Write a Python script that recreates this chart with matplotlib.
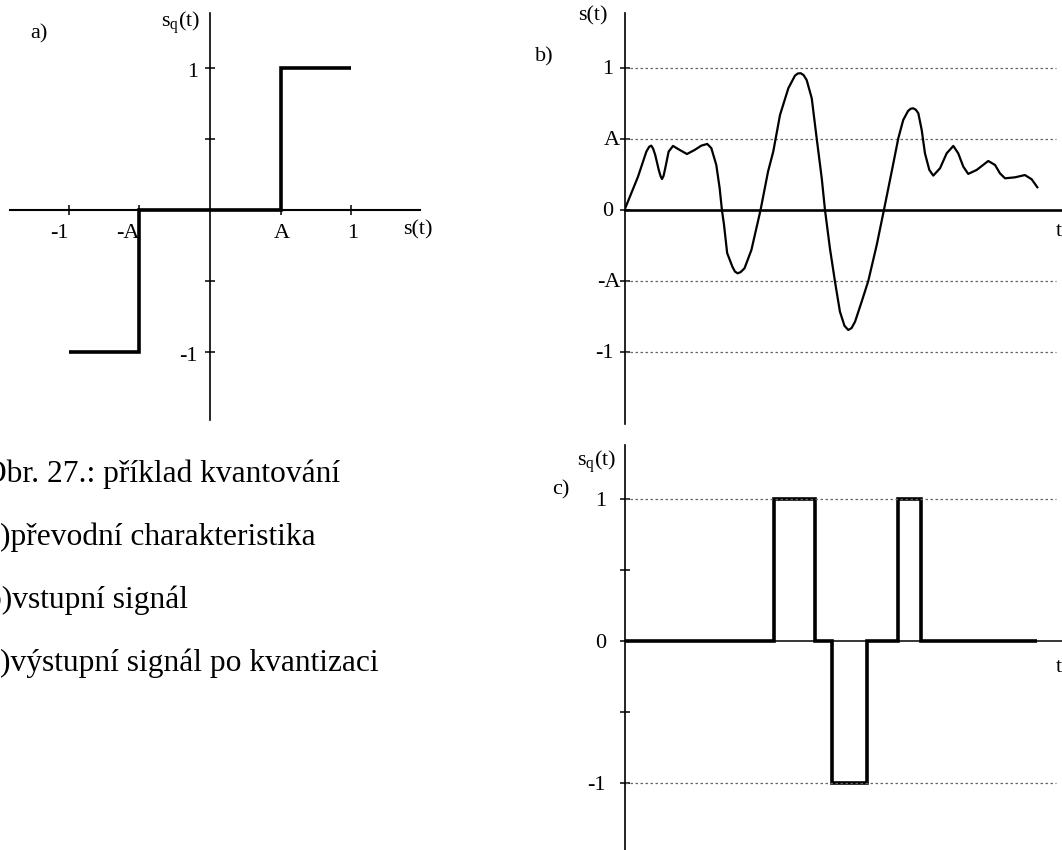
import matplotlib
matplotlib.use("Agg")
import matplotlib.pyplot as plt

plt.rcParams["font.family"] = ["Liberation Serif", "DejaVu Serif"]
plt.rcParams["mathtext.fontset"] = "custom"
plt.rcParams["mathtext.rm"] = "Liberation Serif"
plt.rcParams["mathtext.it"] = "Liberation Serif:italic"

W, H = 1062, 850
A = 0.5

# a) transfer characteristic of the quantizer
char_edges = [-1, -A, A, 1]
char_levels = [-1, 0, 1]
a_xticks = [-1, -A, A, 1]
a_xlabels = ["-1", "-A", "A", "1"]
a_yticks = [-1, -0.5, 0.5, 1]
a_ylabels = ["-1", "", "", "1"]

# b) input signal (read from the picture)
sig_t = [0, 0.096, 0.155, 0.175, 0.190, 0.203, 0.218, 0.243, 0.256, 0.266,
         0.277, 0.289, 0.313, 0.344, 0.391, 0.443, 0.498, 0.545, 0.587, 0.616,
         0.651, 0.675, 0.691, 0.706, 0.728, 0.765, 0.783, 0.802, 0.823, 0.851,
         0.900, 0.965, 1.018, 1.055, 1.103, 1.162, 1.209, 1.229, 1.250, 1.270,
         1.292, 1.328, 1.363, 1.399, 1.422, 1.457, 1.493, 1.528, 1.560, 1.587,
         1.610, 1.635, 1.682, 1.729, 1.789, 1.840, 1.895, 1.942, 1.977, 2.011,
         2.030, 2.048, 2.066, 2.084, 2.108, 2.131, 2.162, 2.190, 2.238, 2.285,
         2.332, 2.367, 2.403, 2.438, 2.498, 2.580, 2.628, 2.663, 2.699, 2.770,
         2.840, 2.888, 2.928]
sig_s = [0, 0.235, 0.411, 0.445, 0.453, 0.432, 0.387, 0.282, 0.238, 0.218,
         0.240, 0.294, 0.411, 0.451, 0.423, 0.394, 0.423, 0.453, 0.465, 0.435,
         0.317, 0.153, 0, -0.106, -0.303, -0.399, -0.433, -0.446, -0.438, -0.411,
         -0.282, 0, 0.270, 0.411, 0.669, 0.857, 0.946, 0.961, 0.963, 0.950,
         0.915, 0.787, 0.505, 0.223, 0, -0.270, -0.505, -0.716, -0.815, -0.845,
         -0.832, -0.787, -0.646, -0.500, -0.246, 0, 0.270, 0.505, 0.634, 0.697,
         0.713, 0.716, 0.706, 0.681, 0.563, 0.399, 0.282, 0.242, 0.294, 0.399,
         0.451, 0.399, 0.305, 0.254, 0.282, 0.345, 0.317, 0.258, 0.223, 0.230,
         0.246, 0.216, 0.160]
b_yticks = [1, A, 0, -A, -1]
b_ylabels = ["1", "A", "0", "-A", "-1"]

# c) quantized output
q_edges = [0, 1.060, 1.354, 1.474, 1.722, 1.943, 2.105, 2.924]
q_levels = [0, 1, 0, -1, 0, 1, 0]
c_yticks = [1, 0.5, 0, -0.5, -1]
c_ylabels = ["1", "", "0", "", "-1"]

caption = ["Obr. 27.: příklad kvantování",
           "a)převodní charakteristika",
           "b)vstupní signál",
           "c)výstupní signál po kvantizaci"]

SQ = r"$\mathrm{s_q(t)}$"
FS = 16


def make_axes(fig, left, top, right, bottom, xlim, ylim):
    ax = fig.add_axes([left / W, 1 - bottom / H, (right - left) / W, (bottom - top) / H])
    ax.set_xlim(*xlim)
    ax.set_ylim(*ylim)
    ax.patch.set_visible(False)
    for side in ("top", "right"):
        ax.spines[side].set_visible(False)
    ax.spines["left"].set_position(("data", 0))
    ax.spines["bottom"].set_position(("data", 0))
    ax.tick_params(direction="inout", length=7.5, width=1.1, labelleft=False,
                   labelbottom=False)
    return ax


fig = plt.figure(figsize=(W / 100, H / 100), dpi=100)

# ---- a)
ax = make_axes(fig, 10, 13, 420, 420, (-1.418, 1.489), (-1.479, 1.387))
ax.spines["left"].set_linewidth(1.2)
ax.spines["bottom"].set_linewidth(1.5)
ax.set_xticks(a_xticks)
ax.set_yticks(a_yticks)
ax.stairs(char_levels, char_edges, baseline=None, color="black", lw=2.6)
for x, lab in zip(a_xticks, a_xlabels):
    if lab.startswith("-"):
        ax.text(x, -0.165, lab, ha="right", va="center", fontsize=FS)
    else:
        ax.text(x + 0.01, -0.165, lab, ha="center", va="center", fontsize=FS)
for y, lab in zip(a_yticks, a_ylabels):
    if lab:
        ax.text(-0.085, y - 0.03, lab, ha="right", va="center", fontsize=FS)
ax.text(1.475, -0.14, "s(t)", ha="center", va="center", fontsize=FS)
ax.text(-0.205, 1.32, SQ, ha="center", va="center", fontsize=FS)
ax.text(-1.21, 1.24, "a)", ha="center", va="center", fontsize=16)

# ---- b)
ax = make_axes(fig, 624.5, 13, 1062, 424, (0, 3.103), (-1.507, 1.387))
ax.spines["left"].set_linewidth(1.2)
ax.spines["bottom"].set_linewidth(1.9)
ax.set_xticks([])
ax.set_yticks(b_yticks)
ax.hlines([1, A, -A, -1], 0, 3.06, colors="#666666", linestyles=(0, (2, 2)), lw=0.9)
ax.plot(sig_t, sig_s, color="black", lw=1.6, solid_joinstyle="round")
for y, lab in zip(b_yticks, b_ylabels):
    xr = -0.03 if "A" in lab else -0.08
    ax.text(xr, y - 0.01, lab, ha="right", va="center", fontsize=FS)
ax.text(-0.223, 1.366, "s(t)", ha="center", va="center", fontsize=FS)
ax.text(-0.571, 1.077, "b)", ha="center", va="center", fontsize=16)
ax.text(3.06, -0.15, "t", ha="left", va="center", fontsize=FS)

# ---- c)
ax = make_axes(fig, 624.5, 445, 1062, 850, (0, 3.103), (-1.472, 1.380))
ax.spines["left"].set_linewidth(1.2)
ax.spines["bottom"].set_linewidth(1.1)
ax.set_xticks([])
ax.set_yticks(c_yticks)
ax.hlines([1, -1], 0, 3.06, colors="#666666", linestyles=(0, (2, 2)), lw=0.9)
ax.stairs(q_levels, q_edges, baseline=None, color="black", lw=2.6)
for y, lab in zip(c_yticks, c_ylabels):
    if lab:
        ax.text(-0.131, y - 0.015, lab, ha="right", va="center", fontsize=FS)
ax.text(-0.195, 1.261, SQ, ha="center", va="center", fontsize=FS)
ax.text(-0.450, 1.063, "c)", ha="center", va="center", fontsize=16)
ax.text(3.06, -0.19, "t", ha="left", va="center", fontsize=FS)

# caption on the left (partly cut by the page edge, as in the source)
for i, line in enumerate(caption):
    x0 = -16 if i == 0 else -14
    fig.text(x0 / W, 1 - (482 + 63 * i) / H, line, ha="left", va="baseline",
             fontsize=22.7)

fig.savefig("out.png", dpi=100)
